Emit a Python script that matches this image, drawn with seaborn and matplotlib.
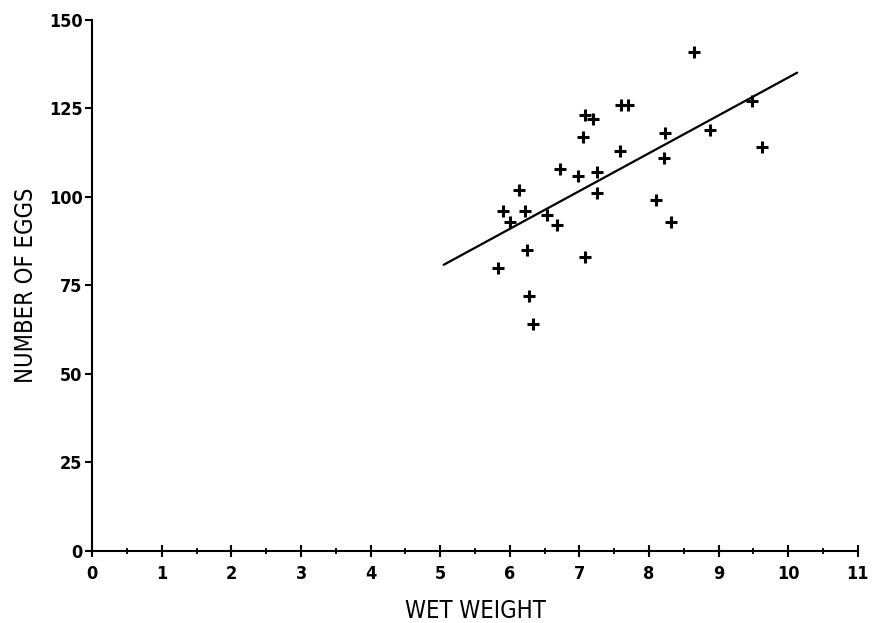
import matplotlib
matplotlib.use("Agg")
import matplotlib.pyplot as plt
import seaborn as sns
import pandas as pd
from matplotlib.ticker import MultipleLocator

wet_weight = [8.65, 9.48, 8.87, 9.63, 8.23, 8.22, 8.10, 8.31, 7.60, 7.70,
              7.59, 7.08, 7.20, 7.05, 7.26, 6.98, 7.25, 7.08, 6.72, 6.68,
              6.53, 6.13, 6.22, 5.90, 6.01, 6.25, 5.83, 6.28, 6.33]
num_eggs = [141, 127, 119, 114, 118, 111, 99, 93, 126, 126,
            113, 123, 122, 117, 107, 106, 101, 83, 108, 92,
            95, 102, 96, 96, 93, 85, 80, 72, 64]
fit_x = [5.05, 10.13]
fit_y = [80.8, 135.1]
x_ticks = list(range(0, 12))
y_ticks = [0, 25, 50, 75, 100, 125, 150]

sns.set_theme(style="ticks")
plt.rcParams['font.family'] = ['DejaVu Sans']
plt.rcParams['font.stretch'] = 'condensed'
plt.rcParams['text.color'] = 'black'
plt.rcParams['axes.labelcolor'] = 'black'
plt.rcParams['xtick.color'] = 'black'
plt.rcParams['ytick.color'] = 'black'

df = pd.DataFrame({"x": wet_weight, "y": num_eggs})
line_df = pd.DataFrame({"x": fit_x, "y": fit_y})

fig = plt.figure(figsize=(8.87, 6.23), dpi=100)
ax = fig.add_axes([0.104, 0.116, 0.863, 0.852])

sns.scatterplot(data=df, x="x", y="y", marker="+", s=70, color="black",
                linewidth=2.2, ax=ax)
sns.lineplot(data=line_df, x="x", y="y", color="black", linewidth=1.6, ax=ax)

ax.set_xlim(0, 11)
ax.set_ylim(0, 150)
ax.set_xticks(x_ticks)
ax.set_xticklabels([str(t) for t in x_ticks], fontweight="bold", fontstretch="condensed")
ax.set_yticks(y_ticks)
ax.set_yticklabels([str(t) for t in y_ticks], fontweight="bold", fontstretch="condensed")
ax.xaxis.set_minor_locator(MultipleLocator(0.5))
ax.tick_params(axis="x", which="major", direction="inout", length=8, width=1.5,
               labelsize=13, pad=6)
ax.tick_params(axis="x", which="minor", direction="inout", length=5, width=1.3)
ax.tick_params(axis="y", which="major", direction="out", length=5, width=1.5,
               labelsize=13, pad=2)
for s in ["top", "right"]:
    ax.spines[s].set_visible(False)
for s in ["left", "bottom"]:
    ax.spines[s].set_linewidth(1.5)
    ax.spines[s].set_color("black")

ax.set_xlabel("WET WEIGHT", fontsize=17, labelpad=12, fontstretch="condensed")
ax.set_ylabel("NUMBER OF EGGS", fontsize=17, labelpad=8, fontstretch="condensed")

fig.savefig("out.png", dpi=100)
